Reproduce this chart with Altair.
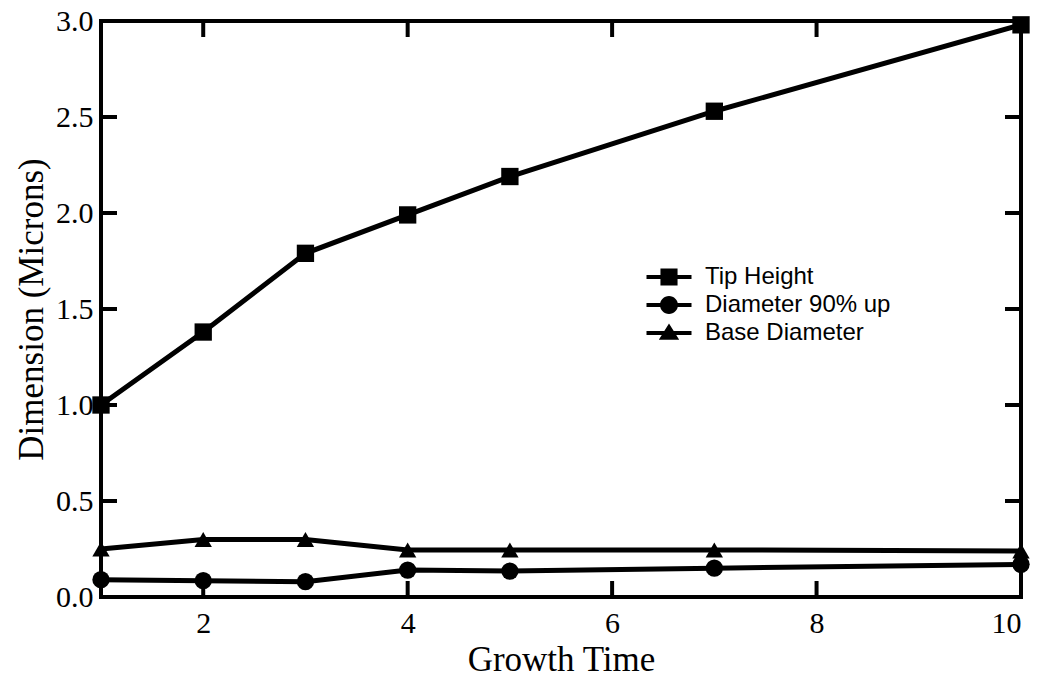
import altair as alt
import pandas as pd

# ---- data ----
growth_time = [1, 2, 3, 4, 5, 7, 10]
tip_height = [1.0, 1.38, 1.79, 1.99, 2.19, 2.53, 2.98]
diameter_90 = [0.09, 0.085, 0.08, 0.14, 0.135, 0.15, 0.17]
base_diameter = [0.25, 0.30, 0.30, 0.245, 0.245, 0.245, 0.24]

series_names = ["Tip Height", "Diameter 90% up", "Base Diameter"]
plot_shapes = ["square", "circle", "triangle-up"]
# legend symbols: a line stub with the marker on it
legend_shapes = [
    "M-1.5,-0.135H1.5V0.135H-1.5Z M-0.57,-0.57H0.57V0.57H-0.57Z",
    "M-1.5,-0.135H1.5V0.135H-1.5Z M-0.6,0A0.6,0.6 0 1,1 0.6,0A0.6,0.6 0 1,1 -0.6,0Z",
    "M-1.5,-0.135H1.5V0.135H-1.5Z M0,-0.63L0.68,0.45H-0.68Z",
]

x_tick_values = [2, 4, 6, 8]
y_tick_values = [0.5, 1.0, 1.5, 2.0, 2.5]
x_label_values = [2, 4, 6, 8, 10]
y_label_values = [0.0, 0.5, 1.0, 1.5, 2.0, 2.5, 3.0]

rows = []
for name, vals in zip(series_names, [tip_height, diameter_90, base_diameter]):
    for t, v in zip(growth_time, vals):
        rows.append({"time": t, "value": v, "series": name})
df = pd.DataFrame(rows)

W, H = 920, 576
TICK = 16
SERIF = "Liberation Serif"

x_scale = alt.Scale(domain=[1, 10], nice=False, zero=False)
y_scale = alt.Scale(domain=[0, 3], nice=False)

x_axis = alt.Axis(
    values=x_label_values, format="d", ticks=False, domain=False, grid=False,
    labelFont=SERIF, labelFontSize=30, labelColor="black", labelPadding=11,
    title="Growth Time", titleFont=SERIF, titleFontSize=35,
    titleFontWeight="normal", titleColor="black", titlePadding=4,
)
y_axis = alt.Axis(
    values=y_label_values, format=".1f", ticks=False, domain=False, grid=False,
    labelFont=SERIF, labelFontSize=30, labelColor="black", labelPadding=8,
    title="Dimension (Microns)", titleFont=SERIF, titleFontSize=35,
    titleFontWeight="normal", titleColor="black", titlePadding=6,
)

base = alt.Chart(df)

lines = base.mark_line(color="black", strokeWidth=5).encode(
    x=alt.X("time:Q", scale=x_scale, axis=x_axis),
    y=alt.Y("value:Q", scale=y_scale, axis=y_axis),
    detail="series:N",
)

points = base.mark_point(filled=True, color="black", opacity=1, size=300).encode(
    x=alt.X("time:Q", scale=x_scale),
    y=alt.Y("value:Q", scale=y_scale),
    shape=alt.Shape(
        "series:N",
        scale=alt.Scale(domain=series_names, range=plot_shapes),
        legend=None,
    ),
)

legend_layer = (
    base.mark_point(filled=True, color="black", opacity=1, size=900)
    .encode(
        x=alt.X("time:Q", scale=x_scale),
        y=alt.Y("value:Q", scale=y_scale),
        shape=alt.Shape(
            "series:N",
            scale=alt.Scale(domain=series_names, range=legend_shapes),
            legend=alt.Legend(
                title=None, orient="none", legendX=553, legendY=241,
                labelFont="Liberation Sans", labelFontSize=24, labelLimit=0,
                labelColor="black", labelOffset=21, rowPadding=1,
                symbolSize=900, symbolFillColor="black", symbolStrokeWidth=0,
                symbolOpacity=1, padding=0,
            ),
        ),
    )
    .transform_filter("false")
)

xt = pd.DataFrame({"t": x_tick_values})
yt = pd.DataFrame({"t": y_tick_values})

bottom_ticks = alt.Chart(xt).mark_rule(color="black", strokeWidth=4).encode(
    x=alt.X("t:Q", scale=x_scale), y=alt.value(H), y2=alt.value(H - TICK)
)
top_ticks = alt.Chart(xt).mark_rule(color="black", strokeWidth=4).encode(
    x=alt.X("t:Q", scale=x_scale), y=alt.value(0), y2=alt.value(TICK)
)
left_ticks = alt.Chart(yt).mark_rule(color="black", strokeWidth=4).encode(
    y=alt.Y("t:Q", scale=y_scale), x=alt.value(0), x2=alt.value(TICK)
)
right_ticks = alt.Chart(yt).mark_rule(color="black", strokeWidth=4).encode(
    y=alt.Y("t:Q", scale=y_scale), x=alt.value(W), x2=alt.value(W - TICK)
)

chart = (
    alt.layer(lines, points, legend_layer, bottom_ticks, top_ticks, left_ticks, right_ticks)
    .resolve_scale(shape="independent")
    .properties(
        width=W, height=H,
        autosize=alt.AutoSizeParams(type="none"),
        padding={"left": 101, "top": 21, "right": 21, "bottom": 84},
        background="white",
    )
    .configure_view(stroke="black", strokeWidth=4)
)

chart.save("out.html", embed_options={"renderer": "svg", "actions": False})
